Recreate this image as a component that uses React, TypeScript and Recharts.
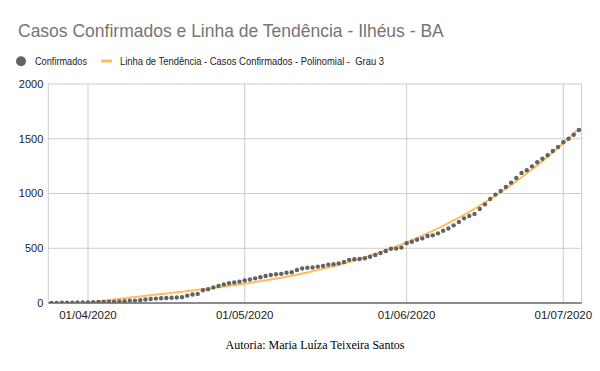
import {
  ComposedChart,
  Line,
  Scatter,
  XAxis,
  YAxis,
  CartesianGrid,
} from "recharts";

// daily cumulative confirmed cases, Ilhéus - BA, from 25/03/2020 to 04/07/2020
const startDate = "2020-03-25";
const confirmados = [
  1, 1, 2, 2, 3, 4, 5,
  6, 8, 9, 10, 12, 13, 15, 17, 20, 22,
  25, 32, 36, 40, 43, 46, 48, 50, 53, 67,
  77, 83, 117, 125, 141, 155, 170, 180, 187, 195,
  205, 215, 225, 235, 247, 256, 262, 266, 277, 281,
  301, 316, 322, 324, 332, 338, 350, 354, 362, 374,
  394, 399, 402, 408, 423, 438, 457, 475, 495, 497,
  506, 546, 560, 578, 590, 612, 618, 636, 660, 680,
  709, 740, 773, 794, 813, 858, 901, 950, 990, 1023,
  1059, 1099, 1141, 1187, 1213, 1248, 1285, 1318, 1349, 1388,
  1425, 1468, 1500, 1537, 1580,
];
const xTickLabels = ["01/04/2020", "01/05/2020", "01/06/2020", "01/07/2020"];
const yTicks = [0, 500, 1000, 1500, 2000];

const title = "Casos Confirmados e Linha de Tendência - Ilhéus - BA";
const legendPoints = "Confirmados";
const legendTrend = "Linha de Tendência - Casos Confirmados - Polinomial - \u00a0Grau 3";
const footer = "Autoria: Maria Luíza Teixeira Santos";

const DOT = "#636363";
const TREND = "#fdbf5e";
const GRID = "#cccccc";

function dayIndex(label: string) {
  const [dd, mm, yyyy] = label.split("/").map(Number);
  const [y0, m0, d0] = startDate.split("-").map(Number);
  return Math.round((Date.UTC(yyyy, mm - 1, dd) - Date.UTC(y0, m0 - 1, d0)) / 86400000);
}

// least squares cubic, same as the sheet's "polinomial grau 3" trendline
function cubicFit(xs: number[], ys: number[]) {
  const n = 4;
  const s = 100;
  const A = Array.from({ length: n }, () => new Array(n + 1).fill(0));
  xs.forEach((xRaw, k) => {
    const x = xRaw / s;
    for (let i = 0; i < n; i++) {
      for (let j = 0; j < n; j++) A[i][j] += Math.pow(x, i + j);
      A[i][n] += ys[k] * Math.pow(x, i);
    }
  });
  for (let c = 0; c < n; c++) {
    let p = c;
    for (let r = c + 1; r < n; r++) if (Math.abs(A[r][c]) > Math.abs(A[p][c])) p = r;
    [A[c], A[p]] = [A[p], A[c]];
    for (let r = 0; r < n; r++) {
      if (r === c) continue;
      const f = A[r][c] / A[c][c];
      for (let j = c; j <= n; j++) A[r][j] -= f * A[c][j];
    }
  }
  const coef = A.map((row, i) => row[n] / row[i]);
  return (xRaw: number) => {
    const x = xRaw / s;
    return coef[0] + coef[1] * x + coef[2] * x * x + coef[3] * x * x * x;
  };
}

const days = confirmados.map((_, i) => i);
const trend = cubicFit(days, confirmados);
const data = confirmados.map((v, i) => ({ d: days[i], conf: v, trend: trend(days[i]) }));
const xTicks = xTickLabels.map(dayIndex);

const Dot = (props: { cx?: number; cy?: number }) => (
  <circle cx={props.cx} cy={props.cy} r={2.2} fill={DOT} />
);

export default function App() {
  return (
    <div style={{ position: "absolute", left: 0, top: 0, width: 600, height: 371, background: "#fff" }}>
      <ComposedChart
        width={600}
        height={371}
        data={data}
        margin={{ top: 84, right: 18.3, bottom: 38, left: 0 }}
      >
        <CartesianGrid stroke={GRID} />
        <XAxis
          dataKey="d"
          type="number"
          domain={[-0.6, days[days.length - 1] + 0.52]}
          ticks={xTicks}
          tickFormatter={(v: number) => xTickLabels[xTicks.indexOf(v)] ?? ""}
          tickLine={false}
          axisLine={{ stroke: "#333333" }}
          tick={{ fontSize: 11.5, fill: "#222222", fontFamily: "Liberation Sans, Arial, sans-serif" }}
          height={30}
          allowDataOverflow
        />
        <YAxis
          type="number"
          domain={[0, 2000]}
          ticks={yTicks}
          axisLine={false}
          tickLine={false}
          tickSize={4}
          tickMargin={1}
          width={48.3}
          tick={{ fontSize: 11, fill: "#222222", fontFamily: "Liberation Sans, Arial, sans-serif" }}
          allowDataOverflow
        />
        <Line
          type="monotone"
          dataKey="trend"
          stroke={TREND}
          strokeWidth={2}
          dot={false}
          activeDot={false}
          isAnimationActive={false}
        />
        <Scatter dataKey="conf" fill={DOT} shape={<Dot />} isAnimationActive={false} />
      </ComposedChart>
      <svg
        width={600}
        height={371}
        style={{ position: "absolute", left: 0, top: 0, pointerEvents: "none" }}
      >
        <text x={18} y={36.5} fontSize={17.5} fill="#757575" fontFamily="Liberation Sans, Arial, sans-serif">
          {title}
        </text>
        <circle cx={21} cy={61.3} r={5} fill={DOT} />
        <text
          x={35}
          y={64.8}
          fontSize={11}
          fill="#222222"
          fontFamily="Liberation Sans, Arial, sans-serif"
          textLength={52}
          lengthAdjust="spacingAndGlyphs"
        >
          {legendPoints}
        </text>
        <rect x={101} y={59.5} width={11} height={3} fill={TREND} />
        <text
          x={120}
          y={64.8}
          fontSize={11}
          fill="#222222"
          fontFamily="Liberation Sans, Arial, sans-serif"
          textLength={264}
          lengthAdjust="spacingAndGlyphs"
        >
          {legendTrend}
        </text>
        <text x={315} y={349} fontSize={12} fill="#000000" textAnchor="middle" fontFamily="Liberation Serif, Times New Roman, serif">
          {footer}
        </text>
      </svg>
    </div>
  );
}
